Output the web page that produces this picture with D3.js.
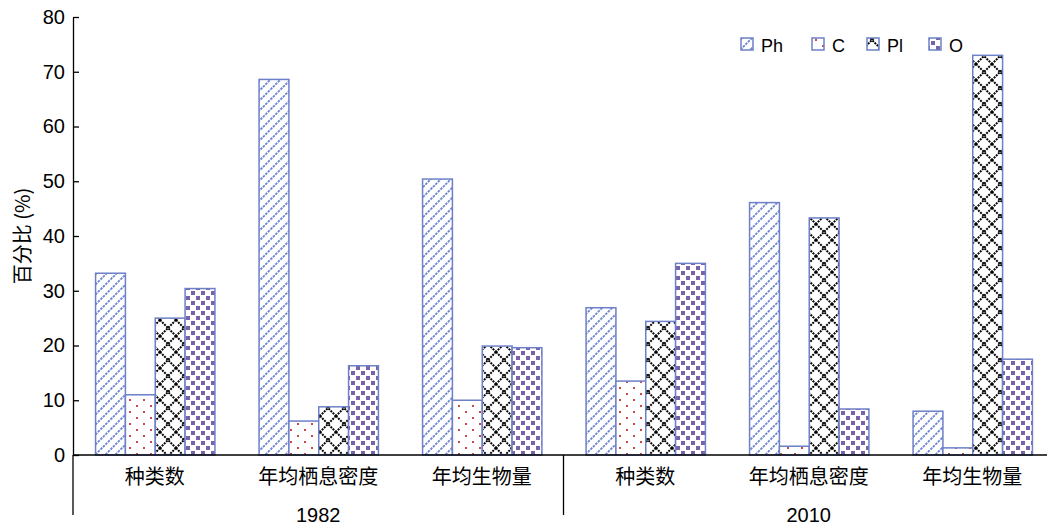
<!DOCTYPE html>
<html><head><meta charset="utf-8">
<script src="https://cdn.jsdelivr.net/npm/d3@7"></script>
<style>body{margin:0;background:#fff}svg{display:block}</style>
</head><body>
<svg id="c" width="1047" height="528"></svg>
<script>
const years = ["1982", "2010"];
const metrics = ["种类数", "年均栖息密度", "年均生物量"];
const series = ["Ph", "C", "Pl", "O"];
const yTicks = [0, 10, 20, 30, 40, 50, 60, 70, 80];
// values per category (year × metric), order Ph, C, Pl, O
const Ph = [33.2, 68.6, 50.4, 26.9, 46.1, 8.0];
const C  = [11.0, 6.2, 10.0, 13.5, 1.6, 1.3];
const Pl = [25.0, 8.8, 19.9, 24.4, 43.3, 73.0];
const O  = [30.4, 16.3, 19.6, 35.0, 8.4, 17.5];
const seriesValues = [Ph, C, Pl, O];

(function () {
const svg = d3.select("#c");
const mLeft = 73, mTop = 17, mBottom = 455, rightEdge = 1054;
const cjk = "'Noto Sans CJK SC', 'Noto Sans', sans-serif";
const latin = "'Liberation Sans', Arial, sans-serif";
const border = "#6d80c8";

const cats = [];
years.forEach(yr => metrics.forEach(m => cats.push(yr + "|" + m)));

const x0 = d3.scaleBand().domain(cats).range([mLeft, rightEdge]).paddingInner(0.27).paddingOuter(0.135);
const xOuter = d3.scaleBand().domain(cats).range([mLeft, rightEdge]);
const x1 = d3.scaleBand().domain(series).range([0, x0.bandwidth()]);
const y = d3.scaleLinear().domain([0, 80]).range([mBottom, mTop]);

// patterns
const defs = svg.append("defs");
let p = defs.append("pattern").attr("id", "pPh").attr("patternUnits", "userSpaceOnUse").attr("width", 10).attr("height", 10);
p.append("rect").attr("width", 10).attr("height", 10).attr("fill", "#fff");
p.append("path").attr("d", "M-2,12 L12,-2 M-2,2 L2,-2 M8,12 L12,8").attr("stroke", "#6a82d2").attr("stroke-width", 1.8).attr("stroke-dasharray", "2.5,1");
p = defs.append("pattern").attr("id", "pC").attr("patternUnits", "userSpaceOnUse").attr("width", 14).attr("height", 12);
p.append("rect").attr("width", 14).attr("height", 12).attr("fill", "#fff");
p.append("rect").attr("x", 3).attr("y", 3).attr("width", 2).attr("height", 2).attr("fill", "#c9484a");
p.append("rect").attr("x", 10).attr("y", 9).attr("width", 2).attr("height", 2).attr("fill", "#c9484a");
p = defs.append("pattern").attr("id", "pPl").attr("patternUnits", "userSpaceOnUse").attr("width", 16).attr("height", 16);
p.append("rect").attr("width", 16).attr("height", 16).attr("fill", "#fff");
p.append("path").attr("d", "M0,0 L16,16 M16,0 L0,16").attr("stroke", "#000").attr("stroke-width", 2).attr("stroke-dasharray", "2,1");
p = defs.append("pattern").attr("id", "pO").attr("patternUnits", "userSpaceOnUse").attr("width", 10).attr("height", 10);
p.append("rect").attr("width", 10).attr("height", 10).attr("fill", "#fff");
p.append("rect").attr("x", 1).attr("y", 1).attr("width", 4).attr("height", 4).attr("fill", "#7a62aa");
p.append("rect").attr("x", 6).attr("y", 6).attr("width", 4).attr("height", 4).attr("fill", "#7a62aa");
const fills = {Ph: "url(#pPh)", C: "url(#pC)", Pl: "url(#pPl)", O: "url(#pO)"};

// bars
const g = svg.append("g");
cats.forEach((cat, i) => {
  series.forEach((s, k) => {
    const v = seriesValues[k][i];
    g.append("rect")
      .attr("x", x0(cat) + x1(s) + 0.5)
      .attr("y", y(v))
      .attr("width", x1.bandwidth())
      .attr("height", y(0) - y(v))
      .attr("fill", fills[s])
      .attr("stroke", border).attr("stroke-width", 1.5);
  });
});

// y axis
const yAxis = d3.axisLeft(y).tickValues(yTicks).tickSizeInner(-6).tickSizeOuter(0).tickPadding(8);
const ya = svg.append("g").attr("transform", `translate(${mLeft},0)`).call(yAxis);
ya.select(".domain").attr("stroke", "#000").attr("stroke-width", 1.3);
ya.selectAll(".tick line").attr("stroke", "#000").attr("stroke-width", 1.3);
ya.selectAll("text").attr("font-family", latin).attr("font-size", 20).attr("fill", "#000");

// x axis line
svg.append("line").attr("x1", mLeft).attr("x2", 1047).attr("y1", mBottom).attr("y2", mBottom).attr("stroke", "#000").attr("stroke-width", 1.3);
// separators
[mLeft, xOuter(cats[3])].forEach(sx => svg.append("line").attr("x1", sx).attr("x2", sx)
  .attr("y1", mBottom).attr("y2", 515).attr("stroke", "#000").attr("stroke-width", 1.3));

// category labels
cats.forEach(cat => {
  svg.append("text").attr("x", xOuter(cat) + xOuter.bandwidth() / 2).attr("y", 484)
    .attr("text-anchor", "middle").attr("font-family", cjk).attr("font-size", 20).attr("fill", "#000")
    .text(cat.split("|")[1]);
});
years.forEach((yr, i) => {
  const c0 = xOuter(cats[i * 3]), c1 = xOuter(cats[i * 3 + 2]) + xOuter.bandwidth();
  svg.append("text").attr("x", (c0 + c1) / 2).attr("y", 522).attr("text-anchor", "middle")
    .attr("font-family", latin).attr("font-size", 20).attr("fill", "#000").text(yr);
});

// y label
svg.append("text").attr("transform", "translate(30,236) rotate(-90)").attr("text-anchor", "middle")
  .attr("font-family", cjk).attr("font-size", 20).attr("fill", "#000").text("百分比 (%)");

// legend
const legX = [741, 812, 867, 929];
series.forEach((s, k) => {
  svg.append("rect").attr("x", legX[k]).attr("y", 38).attr("width", 12).attr("height", 12)
    .attr("fill", fills[s]).attr("stroke", border).attr("stroke-width", 1.5);
  svg.append("text").attr("x", legX[k] + 20).attr("y", 52).attr("font-family", latin).attr("font-size", 18)
    .attr("fill", "#000").text(s);
});
})();
</script>
</body></html>
